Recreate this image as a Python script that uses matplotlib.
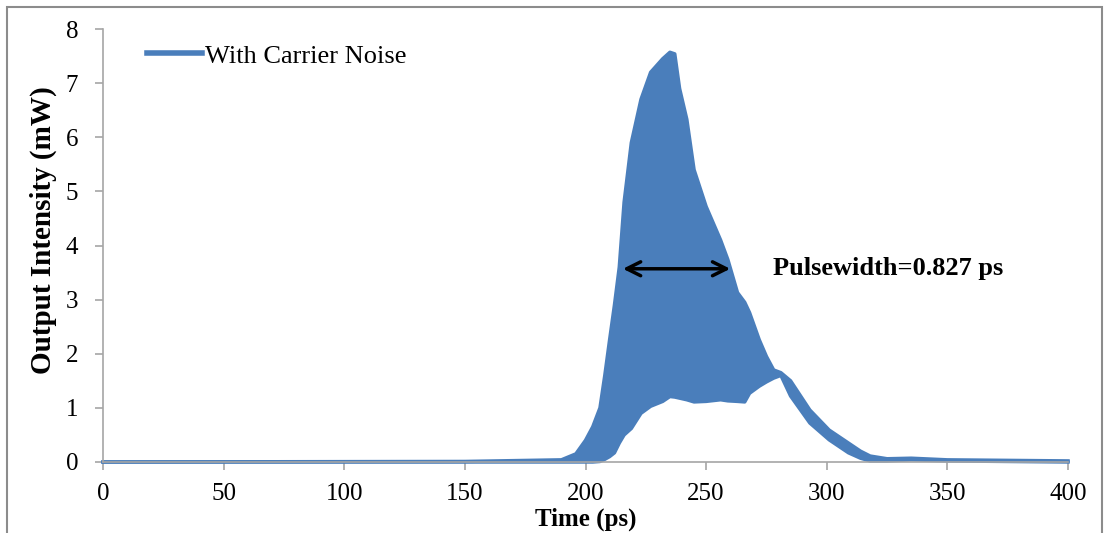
import matplotlib.pyplot as plt
from matplotlib.lines import Line2D
from matplotlib.patches import Rectangle

plt.rcParams['font.family'] = ['Liberation Serif', 'DejaVu Serif']

# envelope of the noisy output trace
time_ps = [0, 150, 190, 196, 200, 203, 206, 208, 210, 212, 214, 216, 219, 223, 227,
           232, 235, 237, 239, 242, 245, 250, 256, 259, 263, 266, 268, 272, 275, 278,
           281, 285, 293, 301, 309, 314, 318, 325, 335, 350, 400]
upper_mw = [0, 0.01, 0.04, 0.15, 0.4, 0.65, 1.0, 1.6, 2.26, 2.9, 3.6, 4.8, 5.9, 6.7, 7.2,
            7.45, 7.57, 7.54, 6.9, 6.33, 5.4, 4.72, 4.1, 3.74, 3.13, 2.95, 2.76, 2.26, 1.95, 1.70,
            1.65, 1.5, 0.96, 0.59, 0.35, 0.2, 0.11, 0.06, 0.07, 0.04, 0.02]
lower_mw = [0, 0, 0, 0, 0, 0, 0.01, 0.05, 0.1, 0.17, 0.35, 0.5, 0.62, 0.9, 1.03,
            1.12, 1.21, 1.2, 1.18, 1.15, 1.11, 1.12, 1.15, 1.13, 1.12, 1.11, 1.27, 1.4, 1.48, 1.55,
            1.6, 1.22, 0.72, 0.41, 0.17, 0.07, 0.02, 0.02, 0.04, 0.02, 0]

# pulsewidth arrow (start/end time, level)
arrow_t = [215.5, 260]
arrow_y = 3.57

blue = '#4a7ebb'
grey = '#a6a6a6'

W, H = 1106, 533
fig = plt.figure(figsize=(W / 100, H / 100), dpi=100)
ax = fig.add_axes([103 / W, 1 - 462 / H, (1068 - 103) / W, (462 - 29) / H])

# noise band
ax.fill(time_ps + time_ps[::-1], upper_mw + lower_mw[::-1], color=blue, lw=0)
ax.plot(time_ps, upper_mw, color=blue, lw=2.5, clip_on=False, solid_joinstyle='round')
ax.plot(time_ps, lower_mw, color=blue, lw=2.5, clip_on=False, solid_joinstyle='round')

ax.set_xlim(0, 400)
ax.set_ylim(0, 8)
ax.set_xticks(range(0, 401, 50))
ax.set_yticks(range(0, 9))

for s in ['top', 'right']:
    ax.spines[s].set_visible(False)
for s in ['left', 'bottom']:
    ax.spines[s].set_color(grey)
    ax.spines[s].set_linewidth(1.2)
ax.tick_params(axis='both', colors=grey, labelcolor='black', labelsize=18,
               length=6, width=1.2, direction='out')
ax.tick_params(axis='y', pad=12)
ax.tick_params(axis='x', pad=9)

ax.set_xlabel('Time (ps)', fontsize=18, fontweight='bold', va='center')
ax.xaxis.set_label_coords(0.5, -(519 - 462) / (462 - 29))
ax.set_ylabel('Output Intensity (mW)', fontsize=21, fontweight='bold')
ax.yaxis.set_label_coords(-(103 - 57) / (1068 - 103), 0.535)

# legend
handle = Line2D([], [], color=blue, lw=4)
ax.legend([handle], ['With Carrier Noise'], loc='center left',
          bbox_to_anchor=(147 / W, 1 - 56 / H), bbox_transform=fig.transFigure,
          frameon=False, fontsize=19, handlelength=2.1, handletextpad=0.1,
          borderpad=0, borderaxespad=0)

# pulsewidth annotation
ax.annotate('', xy=(arrow_t[0], arrow_y), xytext=(arrow_t[1], arrow_y),
            arrowprops=dict(arrowstyle='<->', color='black', lw=2.5,
                            mutation_scale=25, shrinkA=0, shrinkB=0))
ax.text(277.7, arrow_y, 'Pulsewidth=0.827 ps', fontsize=19, fontweight='bold',
        va='center', ha='left')

# outer chart frame
fig.patches.append(Rectangle((7 / W, -0.02), (1102 - 7) / W, 1.02 - 7 / H,
                             transform=fig.transFigure, fill=False,
                             edgecolor='#8c8c8c', lw=1.5))

plt.savefig('out.png', dpi=100)
